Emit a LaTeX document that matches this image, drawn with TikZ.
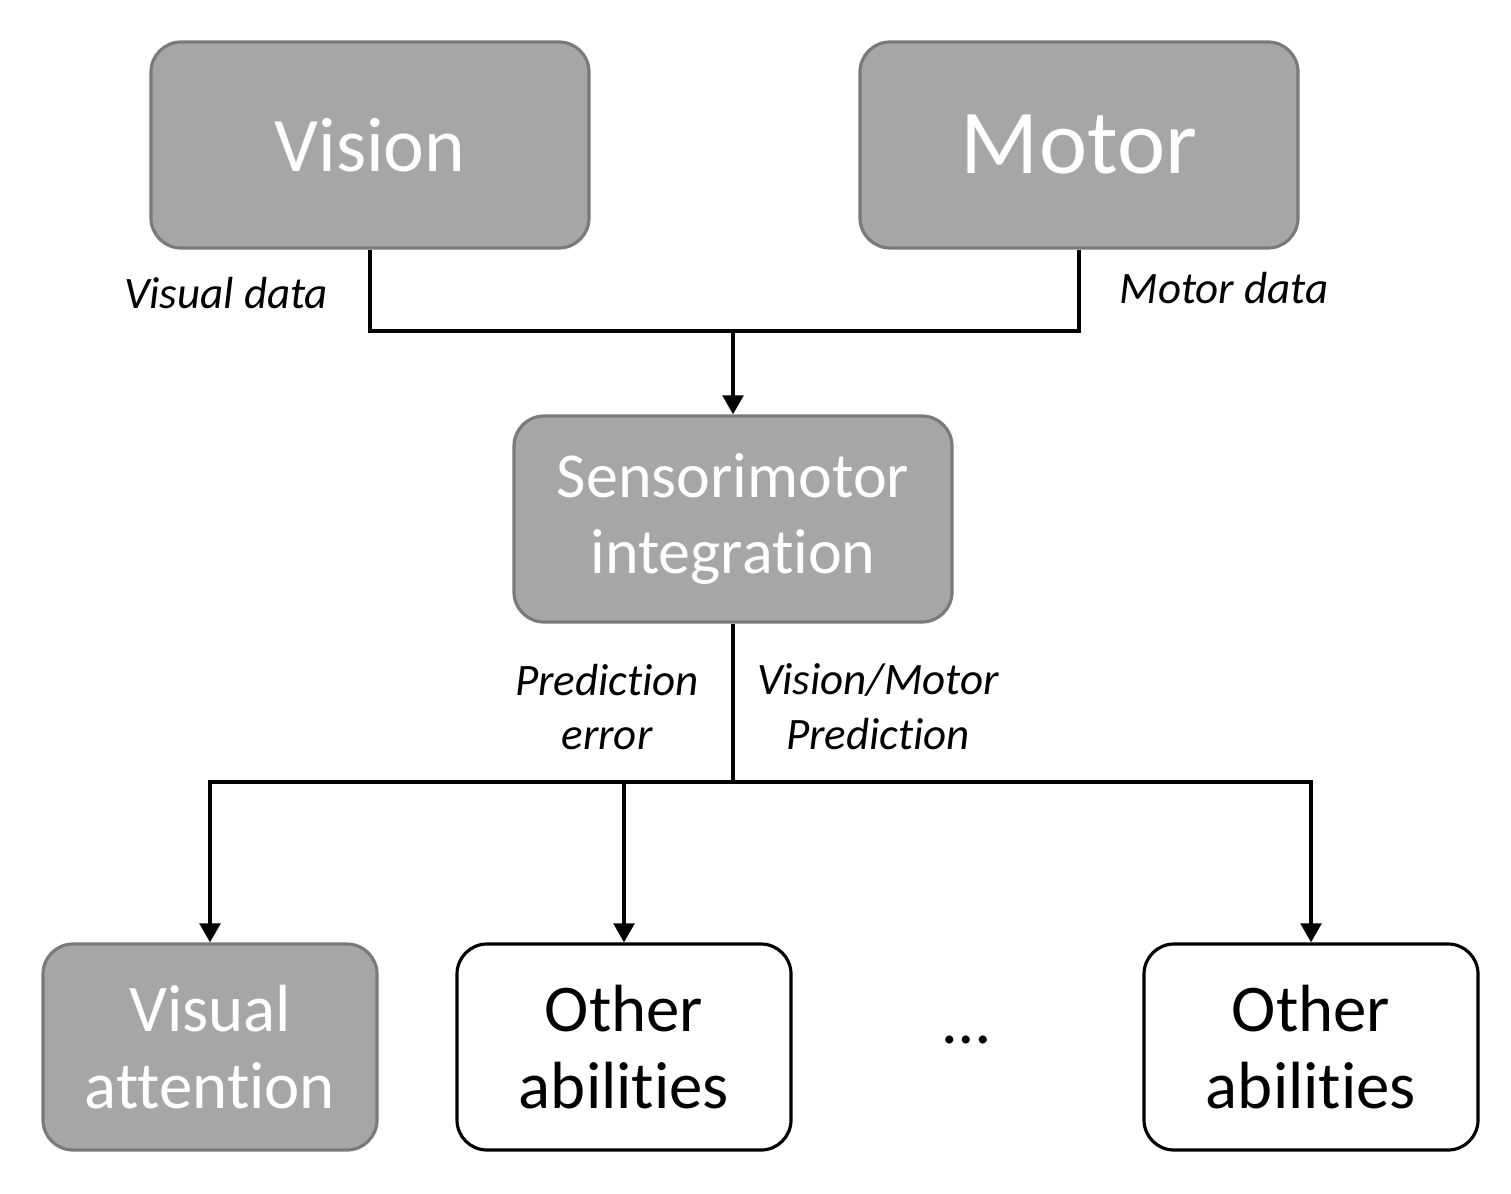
\documentclass[tikz,border=0pt]{standalone}
\usepackage{fontspec}
\setmainfont{Carlito}[Ligatures={NoCommon,NoRare,NoDiscretionary}]
\usetikzlibrary{shapes,arrows.meta}

\begin{document}
\begin{tikzpicture}[
    graybox/.style={draw=black!52, line width=0.9pt, fill=black!35, rounded corners=0.3cm,
        text=white, align=center, minimum height=2.06cm},
    whitebox/.style={draw=black, line width=0.9pt, fill=white, rounded corners=0.3cm,
        align=center, minimum height=2.06cm},
    link/.style={line width=1.15pt},
    arr/.style={line width=1.15pt, -{Triangle[width=5.8pt,length=5.4pt]}},
    lbl/.style={font=\fontsize{12.8}{15.6}\selectfont\itshape, align=center}
]
        \useasboundingbox (0,0) rectangle (15.11,-11.93);

        % 绘制输入模块
        \node[graybox, minimum width=4.38cm, font=\fontsize{22}{26}\selectfont] (vision) at (3.70,-1.45) {Vision};
        \node[graybox, minimum width=4.38cm, font=\fontsize{26}{31}\selectfont] (motor) at (10.79,-1.45) {Motor};

        % 绘制整合模块
        \node[graybox, minimum width=4.38cm, font=\fontsize{18.2}{21.5}\selectfont] (sm) at (7.33,-5.19) {Sensorimotor\\integration};

        % 绘制输出模块
        \node[graybox, minimum width=3.34cm, font=\fontsize{19}{22}\selectfont] (va) at (2.10,-10.47) {Visual\\attention};
        \node[whitebox, minimum width=3.34cm, font=\fontsize{19}{22}\selectfont] (oa1) at (6.24,-10.47) {Other\\abilities};
        \node[whitebox, minimum width=3.34cm, font=\fontsize{19}{22}\selectfont] (oa2) at (13.11,-10.47) {Other\\abilities};
        \node[font=\fontsize{19}{22}\selectfont] (dots) at (9.67,-10.40) {…};

        % 添加连线
        \coordinate (join) at (7.33,-3.31);
        \coordinate (split) at (7.33,-7.82);
        \draw[link] (vision.south) |- (join) -| (motor.south);
        \draw[arr] (join) -- (sm.north);
        \draw[link] (sm.south) -- (split);
        \draw[arr] (split) -| (va.north);
        \draw[arr] (split) -| (oa1.north);
        \draw[arr] (split) -| (oa2.north);

        % 添加注释
        \node[lbl] (vdata) at (2.26,-2.93) {Visual data};
        \node[lbl] (mdata) at (12.24,-2.88) {Motor data};
        \node[lbl] (perr) at (6.07,-7.07) {Prediction\\error};
        \node[lbl] (pred) at (8.78,-7.07) {Vision/Motor\\Prediction};
\end{tikzpicture}
\end{document}
